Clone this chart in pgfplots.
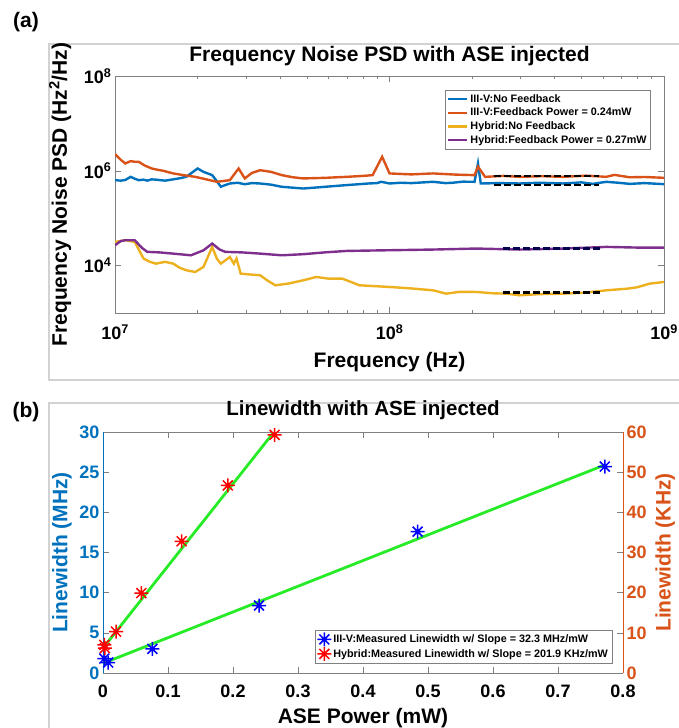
\documentclass[border=0pt]{standalone}
\usepackage{fontspec}
\setmainfont{Liberation Sans}
\usepackage{pgfplots}
\pgfplotsset{compat=1.18}
\definecolor{matblue}{rgb}{0,0.447,0.741}
\definecolor{matorange}{rgb}{0.85,0.325,0.098}
\definecolor{matyellow}{rgb}{0.929,0.694,0.125}
\definecolor{matpurple}{rgb}{0.494,0.184,0.556}
\definecolor{fitgreen}{rgb}{0.15,0.92,0.15}
\definecolor{axgray}{rgb}{0.5,0.5,0.5}

% MATLAB-like 8-arm asterisk
\pgfdeclareplotmark{ast8}{%
  \pgfpathmoveto{\pgfqpoint{0pt}{\pgfplotmarksize}}\pgfpathlineto{\pgfqpoint{0pt}{-\pgfplotmarksize}}%
  \pgfpathmoveto{\pgfqpoint{\pgfplotmarksize}{0pt}}\pgfpathlineto{\pgfqpoint{-\pgfplotmarksize}{0pt}}%
  \pgfpathmoveto{\pgfqpoint{.707\pgfplotmarksize}{.707\pgfplotmarksize}}\pgfpathlineto{\pgfqpoint{-.707\pgfplotmarksize}{-.707\pgfplotmarksize}}%
  \pgfpathmoveto{\pgfqpoint{-.707\pgfplotmarksize}{.707\pgfplotmarksize}}\pgfpathlineto{\pgfqpoint{.707\pgfplotmarksize}{-.707\pgfplotmarksize}}%
  \pgfusepathqstroke}

\pgfplotsset{
  every axis/.append style={
    scale only axis,
    tick style={axgray, line width=0.6pt},
    tick align=inside,
    major tick length=6pt,
    minor tick length=3pt,
    ticklabel style={font=\fontsize{18}{20}\selectfont\bfseries},
    label style={font=\fontsize{21}{24}\selectfont\bfseries},
    /pgf/number format/assume math mode=true,
  },
}

\begin{document}
\begin{tikzpicture}
\useasboundingbox (0,0) rectangle (679pt,-728pt);
\draw[gray!35, line width=1.2pt] (49pt,-44pt) rectangle (700pt,-380pt);
\draw[gray!35, line width=1.2pt] (49pt,-403pt) rectangle (700pt,-760pt);
\node[font=\fontsize{21}{24}\selectfont\bfseries] at (26pt,-22pt) {(a)};
\node[font=\fontsize{21}{24}\selectfont\bfseries] at (26pt,-412pt) {(b)};

% ---------------- (a) ----------------
\begin{axis}[
  at={(115pt,-313pt)}, anchor=south west,
  width=549pt, height=237pt,
  xmode=log, ymode=log,
  xmin=1e7, xmax=1e9, ymin=1e3, ymax=1e8,
  xtick={1e7,1e8,1e9},
  xticklabels={10\textsuperscript{7},10\textsuperscript{8},10\textsuperscript{9}},
  ytick={1e4,1e6,1e8},
  yticklabels={10\textsuperscript{4},10\textsuperscript{6},10\textsuperscript{8}},
  minor ytick={},
  xticklabel style={yshift=-8pt},
  axis line style={axgray},
  title={Frequency Noise PSD with ASE injected},
  title style={font=\fontsize{21}{24}\selectfont\bfseries,
    at={(axis description cs:0.5,1.059)}, anchor=center},
  xlabel={Frequency (Hz)},
  xlabel style={at={(axis description cs:0.5,-0.207)}, anchor=center},
  ylabel={Frequency Noise PSD (Hz\textsuperscript{2}/Hz)},
  ylabel style={at={(axis description cs:-0.100,0.5)}, anchor=center},
  legend style={at={(0.976,0.941)}, anchor=north east, draw=axgray,
    font=\fontsize{10.8}{12.5}\selectfont\bfseries, row sep=0.5pt, inner sep=2pt,
    cells={anchor=west}},
  legend image code/.code={\draw[#1, line width=2.2pt] (0pt,0pt) -- (0.68cm,0pt);},
]
\addplot[matblue, line width=2.4pt] coordinates {
(1.00e7,6.35e5) (1.05e7,6.2e5) (1.09e7,6.4e5) (1.14e7,7.46e5) (1.18e7,6.8e5) (1.22e7,6.35e5)
(1.27e7,6.5e5) (1.31e7,6.2e5) (1.36e7,6.6e5) (1.41e7,6.5e5) (1.52e7,6.2e5) (1.63e7,6.6e5) (1.73e7,7.0e5)
(1.82e7,7.5e5) (1.90e7,9.0e5) (2.00e7,1.12e6) (2.10e7,9.5e5) (2.26e7,8.1e5)
(2.35e7,6.0e5) (2.43e7,4.6e5) (2.52e7,5.0e5) (2.62e7,5.4e5) (2.80e7,5.6e5) (2.97e7,5.2e5)
(3.15e7,5.5e5) (3.38e7,5.4e5) (3.70e7,5.1e5) (4.05e7,4.6e5) (4.45e7,4.4e5) (4.85e7,4.23e5)
(5.30e7,4.4e5) (5.82e7,4.6e5) (6.40e7,4.8e5) (6.98e7,5.0e5) (7.70e7,5.2e5)
(8.37e7,5.4e5) (9.00e7,5.5e5) (9.33e7,5.86e5) (1.00e8,5.4e5) (1.10e8,5.6e5) (1.20e8,5.5e5) (1.44e8,5.86e5)
(1.60e8,5.5e5) (1.70e8,5.6e5) (1.85e8,5.9e5) (2.04e8,5.86e5) (2.10e8,1.43e6) (2.15e8,5.4e5) (2.50e8,5.5e5)
(2.98e8,5.4e5) (3.50e8,5.6e5) (4.29e8,5.4e5) (5.00e8,5.7e5) (5.50e8,5.3e5) (6.16e8,5.86e5)
(6.80e8,5.6e5) (7.50e8,5.3e5) (8.50e8,5.5e5) (1.00e9,5.23e5)};
\addlegendentry{III-V:No Feedback}
\addplot[matorange, line width=2.4pt] coordinates {
(1.00e7,2.25e6) (1.05e7,1.7e6) (1.09e7,1.43e6) (1.14e7,1.6e6) (1.18e7,1.55e6)
(1.22e7,1.55e6) (1.28e7,1.3e6) (1.36e7,1.12e6) (1.43e7,1.05e6) (1.50e7,1.0e6) (1.56e7,9.4e5) (1.63e7,8.8e5)
(1.80e7,8.0e5) (1.96e7,7.46e5) (2.15e7,6.6e5) (2.35e7,5.86e5) (2.62e7,6.35e5)
(2.82e7,1.12e6) (2.97e7,6.9e5) (3.15e7,9.0e5) (3.38e7,1.03e6) (3.70e7,9.5e5)
(4.05e7,8.1e5) (4.45e7,7.3e5) (4.85e7,6.9e5) (5.80e7,7.1e5) (6.98e7,7.46e5)
(8.0e7,7.8e5) (8.68e7,8.1e5) (9.40e7,1.98e6) (1.00e8,8.8e5) (1.20e8,8.4e5)
(1.44e8,8.8e5) (1.75e8,8.3e5) (2.04e8,8.1e5) (2.10e8,1.22e6) (2.23e8,7.46e5)
(2.60e8,7.8e5) (2.98e8,7.46e5) (3.60e8,7.7e5) (4.29e8,7.46e5) (5.20e8,7.9e5)
(6.16e8,7.46e5) (6.60e8,8.2e5) (7.50e8,7.3e5) (8.50e8,7.4e5) (1.00e9,7.11e5)};
\addlegendentry{III-V:Feedback Power = 0.24mW}
\addplot[matyellow, line width=2.4pt] coordinates {
(1.00e7,3.16e4) (1.09e7,3.43e4) (1.18e7,3.16e4) (1.27e7,1.41e4) (1.34e7,1.2e4)
(1.41e7,1.10e4) (1.52e7,1.2e4) (1.63e7,1.10e4) (1.72e7,9.0e3) (1.82e7,7.96e3)
(1.96e7,7.34e3) (2.10e7,9.37e3) (2.26e7,2.48e4) (2.35e7,1.4e4) (2.43e7,1.10e4)
(2.62e7,1.52e4) (2.71e7,1.10e4) (2.77e7,1.41e4) (2.87e7,6.77e3) (3.10e7,6.5e3)
(3.38e7,6.25e3) (3.60e7,4.8e3) (3.84e7,3.84e3) (4.30e7,4.2e3) (4.85e7,4.90e3)
(5.41e7,5.76e3) (6.00e7,5.3e3) (6.73e7,5.31e3) (7.78e7,3.84e3) (1.00e8,3.54e3)
(1.20e8,3.3e3) (1.44e8,3.01e3) (1.61e8,2.56e3) (1.80e8,2.8e3) (2.07e8,2.78e3)
(2.40e8,2.6e3) (2.68e8,2.56e3) (2.98e8,2.36e3) (3.50e8,2.5e3) (4.29e8,2.56e3)
(5.20e8,2.7e3) (6.16e8,3.01e3) (7.39e8,3.27e3) (8.00e8,3.5e3) (8.87e8,4.17e3)
(1.00e9,4.52e3)};
\addlegendentry{Hybrid:No Feedback}
\addplot[matpurple, line width=2.4pt] coordinates {
(1.00e7,2.69e4) (1.05e7,3.3e4) (1.09e7,3.43e4) (1.18e7,3.43e4) (1.25e7,2.4e4)
(1.31e7,1.95e4) (1.45e7,1.9e4) (1.63e7,1.79e4) (1.89e7,1.65e4) (2.10e7,2.1e4)
(2.26e7,2.92e4) (2.40e7,2.2e4) (2.52e7,1.95e4) (2.90e7,1.9e4) (3.38e7,1.79e4)
(4.05e7,1.65e4) (4.85e7,1.74e4) (5.80e7,1.9e4) (6.98e7,2.04e4) (1.00e8,2.11e4)
(1.44e8,2.18e4) (2.07e8,2.29e4) (2.98e8,2.18e4) (4.29e8,2.29e4) (6.16e8,2.48e4)
(8.00e8,2.40e4) (1.00e9,2.40e4)};
\addlegendentry{Hybrid:Feedback Power = 0.27mW}
\addplot[black, line width=2.6pt, dash pattern=on 7pt off 3pt, forget plot]
  coordinates {(2.4e8,7.8e5) (5.8e8,7.8e5)};
\addplot[black, line width=2.6pt, dash pattern=on 7pt off 3pt, forget plot]
  coordinates {(2.4e8,5.0e5) (5.8e8,5.0e5)};
\addplot[black!70!blue, line width=2.6pt, dash pattern=on 7pt off 3pt, forget plot]
  coordinates {(2.6e8,2.29e4) (6.0e8,2.29e4)};
\addplot[black, line width=2.6pt, dash pattern=on 7pt off 3pt, forget plot]
  coordinates {(2.6e8,2.7e3) (6.0e8,2.7e3)};
\end{axis}

% ---------------- (b) ----------------
\begin{axis}[
  at={(103pt,-673pt)}, anchor=south west,
  width=520pt, height=241pt,
  xmin=0, xmax=0.8, ymin=0, ymax=30,
  xtick={0,0.1,0.2,0.3,0.4,0.5,0.6,0.7,0.8},
  xticklabels={0,0.1,0.2,0.3,0.4,0.5,0.6,0.7,0.8},
  xticklabel style={yshift=-8pt},
  ytick={0,5,10,15,20,25,30},
  separate axis lines,
  x axis line style={axgray},
  y axis line style={matblue},
  yticklabel style={text=matblue},
  title={Linewidth with ASE injected},
  title style={font=\fontsize{20.5}{23}\selectfont\bfseries,
    at={(axis description cs:0.5,1.066)}, anchor=center},
  xlabel={ASE Power (mW)},
  xlabel style={at={(axis description cs:0.5,-0.185)}, anchor=center},
  ylabel={Linewidth (MHz)},
  ylabel style={text=matblue, at={(axis description cs:-0.079,0.5)}, anchor=center},
]
\addplot[fitgreen, line width=2.8pt] coordinates {(0,1.2) (0.772,25.9)};
\addplot[blue, only marks, mark=ast8, mark size=7pt, line width=1.5pt] coordinates {
(0.002,1.8) (0.008,1.3) (0.076,3.0) (0.240,8.4) (0.484,17.6) (0.772,25.7)};
\end{axis}

\begin{axis}[
  at={(103pt,-673pt)}, anchor=south west,
  width=520pt, height=241pt,
  xmin=0, xmax=0.8, ymin=0, ymax=60,
  axis x line=none,
  axis y line*=right,
  ytick={0,10,20,30,40,50,60},
  y axis line style={matorange},
  yticklabel style={text=matorange},
  ylabel={Linewidth (KHz)},
  ylabel style={text=matorange, at={(axis description cs:1.081,0.5)}, anchor=center},
  legend style={at={(0.979,0.041)}, anchor=south east, draw=axgray,
    font=\fontsize{10.8}{12.5}\selectfont\bfseries, row sep=0.5pt, inner sep=2pt,
    cells={anchor=west}},
]
\addlegendimage{blue, only marks, mark=ast8, mark size=7pt, line width=1.5pt}
\addlegendentry{III-V:Measured Linewidth w/ Slope = 32.3 MHz/mW}
\addplot[fitgreen, line width=2.8pt, forget plot] coordinates {(0,6.2) (0.262,59.8)};
\addplot[red, only marks, mark=ast8, mark size=7pt, line width=1.5pt] coordinates {
(0.002,7.0) (0.003,6.2) (0.020,10.3) (0.059,19.9) (0.121,32.8) (0.192,46.7) (0.264,59.3)};
\addlegendentry{Hybrid:Measured Linewidth w/ Slope = 201.9 KHz/mW}
\end{axis}
\end{tikzpicture}
\end{document}
